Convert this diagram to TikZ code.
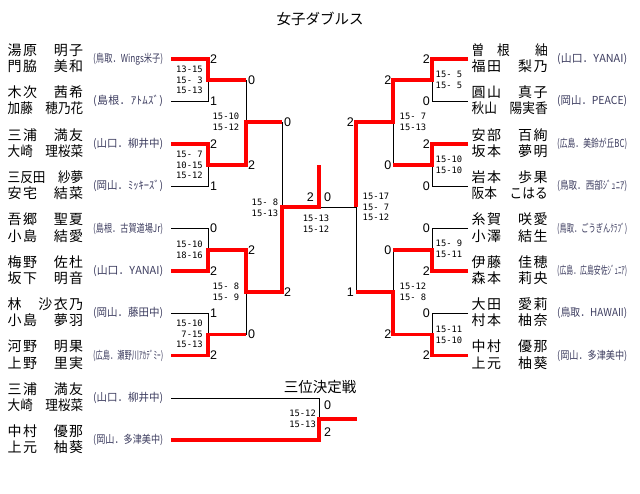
\documentclass[tikz,border=0pt]{standalone}
\usepackage{fontspec}
\usepackage{graphicx}
\setmainfont{Noto Sans CJK JP}
\newfontfamily\monofont{DejaVu Sans Mono}
\newfontfamily\numfont{Liberation Sans}
\definecolor{affc}{RGB}{60,60,95}
\newsavebox\sprbox
\def\sprA#1#2\relax{#1\ifx\relax#2\relax\else\hskip0pt plus 1fill\relax\sprA#2\relax\fi}
\newcommand\dist[2]{\sbox\sprbox{\sprA#2\relax}\ifdim\wd\sprbox>#1\relax\resizebox{#1}{\height}{\usebox\sprbox}\else\hbox to #1{\sprA#2\relax}\fi}
\tikzset{
 nm/.style={anchor=base west, inner sep=0pt, font=\fontsize{14}{14}\selectfont},
 aff/.style={anchor=west, inner sep=0pt, font=\fontsize{11}{11}\selectfont, text=affc},
 bigsc/.style={inner sep=0pt, font=\numfont\fontsize{12.5}{12.5}\selectfont},
 bigL/.style={bigsc, anchor=west},
 bigR/.style={bigsc, anchor=east},
 msc/.style={inner sep=0pt, align=left, anchor=west, font=\monofont\fontsize{8.8}{10.6}\selectfont},
 wire/.style={line width=1pt, black},
 winline/.style={line width=3.3pt, red, line join=miter},
 ttl/.style={inner sep=0pt, font=\fontsize{14.5}{14.5}\selectfont},
}
\newcommand\teamL[5]{%
 \node[nm] (#1a) at (7.5,#2-4) {\dist{75.5pt}{#3}};
 \node[nm] (#1b) at (7.5,#2+12.5) {\dist{75.5pt}{#4}};
 \node[aff] (#1c) at (93,#2) {\dist{70pt}{(#5)}};}
\newcommand\teamR[5]{%
 \node[nm] (#1a) at (471.5,#2-4) {\dist{76pt}{#3}};
 \node[nm] (#1b) at (471.5,#2+12.5) {\dist{76pt}{#4}};
 \node[aff] (#1c) at (557,#2) {\dist{70pt}{(#5)}};}
\begin{document}
\begin{tikzpicture}[x=1pt,y=-1pt]
\fill[white] (0,0) rectangle (640,493);
\useasboundingbox (0,0) rectangle (640,493);
% coordinates
\foreach \i/\y in {1/59,2/101,3/144,4/186,5/228.5,6/271,7/313,8/355.5}{
 \coordinate (Ls\i) at (171,\y); \coordinate (Le\i) at (208,\y);
 \coordinate (Re\i) at (432,\y); \coordinate (Rs\i) at (468,\y);}
\foreach \k/\y in {1/80,2/165,3/250,4/334.5}{
 \coordinate (LJ\k) at (208,\y); \coordinate (LQ\k) at (246,\y);
 \coordinate (RJ\k) at (432,\y); \coordinate (RQ\k) at (393,\y);}
\coordinate (LK1) at (246,122); \coordinate (LK2) at (246,292);
\coordinate (LS1) at (282,122); \coordinate (LS2) at (282,292);
\coordinate (LF) at (282,207); \coordinate (C) at (319,207); \coordinate (Ctop) at (319,165);
\coordinate (RF) at (356,207);
\coordinate (RS1) at (356,122); \coordinate (RS2) at (356,292);
\coordinate (RK1) at (393,122); \coordinate (RK2) at (393,292);
\coordinate (T1s) at (171,398); \coordinate (T1e) at (319,398);
\coordinate (T2s) at (171,440); \coordinate (T2e) at (319,440);
\coordinate (TJ) at (319,419); \coordinate (TW) at (357,419);
% titles
\node[ttl] (title) at (320,18.5) {女子ダブルス};
\node[ttl] (title3) at (320,387) {三位決定戦};
% teams
\teamL{L1}{59}{湯原　明子}{門脇　美和}{鳥取．Wings米子}
\teamL{L2}{101}{木次　茜希}{加藤　穂乃花}{島根．ｱﾄﾑ{ｽﾞ}}
\teamL{L3}{144}{三浦　満友}{大崎　理桜菜}{山口．柳井中}
\teamL{L4}{186}{三反田　紗夢}{安宅　結菜}{岡山．ﾐｯｷｰ{ｽﾞ}}
\teamL{L5}{228.5}{吾郷　聖夏}{小島　結愛}{島根．古賀道場Jr}
\teamL{L6}{271}{梅野　佐杜}{坂下　明音}{山口．YANAI}
\teamL{L7}{313}{林　沙衣乃}{小島　夢羽}{岡山．藤田中}
\teamL{L8}{355.5}{河野　明果}{上野　里実}{広島．瀬野川ｱｶ{ﾃﾞ}ﾐｰ}
\teamL{T1}{398}{三浦　満友}{大崎　理桜菜}{山口．柳井中}
\teamL{T2}{440}{中村　優那}{上元　柚葵}{岡山．多津美中}
\teamR{R1}{59}{曽　根　　紬}{福田　梨乃}{山口．YANAI}
\teamR{R2}{101}{圓山　真子}{秋山　陽実香}{岡山．PEACE}
\teamR{R3}{144}{安部　百絢}{坂本　夢明}{広島．美鈴が丘BC}
\teamR{R4}{186}{岩本　歩果}{阪本　こはる}{鳥取．西部{ｼﾞ}ｭﾆｱ}
\teamR{R5}{228.5}{糸賀　咲愛}{小澤　結生}{鳥取．ごうぎんｸﾗ{ﾌﾞ}}
\teamR{R6}{271}{伊藤　佳穂}{森本　莉央}{広島．広島安佐{ｼﾞ}ｭﾆｱ}
\teamR{R7}{313}{大田　愛莉}{村本　柚奈}{鳥取．HAWAII}
\teamR{R8}{355.5}{中村　優那}{上元　柚葵}{岡山．多津美中}
% black lines
\foreach \a/\b in {1/2,3/4,5/6,7/8}{
 \draw[wire] (Ls\a)--(Le\a)--(Le\b)--(Ls\b);
 \draw[wire] (Rs\a)--(Re\a)--(Re\b)--(Rs\b);}
\draw[wire] (LJ1)--(LQ1)--(LQ2)--(LJ2);
\draw[wire] (LJ3)--(LQ3)--(LQ4)--(LJ4);
\draw[wire] (LK1)--(LS1)--(LS2)--(LK2);
\draw[wire] (LF)--(RF);
\draw[wire] (RK1)--(RS1)--(RS2)--(RK2);
\draw[wire] (RJ1)--(RQ1)--(RQ2)--(RJ2);
\draw[wire] (RJ3)--(RQ3)--(RQ4)--(RJ4);
\draw[wire] (T1s)--(T1e)--(T2e)--(T2s);
% winners
\draw[winline] (Ls1)--(Le1)--(LJ1)--(LQ1);
\draw[winline] (Ls3)--(Le3)--(LJ2)--(LQ2)--(LK1)--(LS1);
\draw[winline] (Ls6)--(Le6)--(LJ3)--(LQ3)--(LK2)--(LS2)--(LF)--(C)--(Ctop);
\draw[winline] (Ls8)--(Le8)--(LJ4)--(LQ4);
\draw[winline] (Rs1)--(Re1)--(RJ1)--(RQ1)--(RK1)--(RS1)--(RF);
\draw[winline] (Rs3)--(Re3)--(RJ2)--(RQ2);
\draw[winline] (Rs6)--(Re6)--(RJ3)--(RQ3);
\draw[winline] (Rs8)--(Re8)--(RJ4)--(RQ4)--(RK2)--(RS2);
\draw[winline] (T2s)--(T2e)--(TJ)--(TW);
% game counts
\foreach \i/\s in {1/2,2/1,3/2,4/1,5/0,6/2,7/1,8/2}{
 \node[bigL] (gl\i) at ([xshift=2pt]Le\i) {\s};
 }
\foreach \i/\s in {1/2,2/0,3/2,4/0,5/0,6/2,7/0,8/2}{
 \node[bigR] (gr\i) at ([xshift=-2pt]Re\i) {\s};
 }
\foreach \k/\s in {1/0,2/2,3/2,4/0}{\node[bigL] (ql\k) at ([xshift=2pt]LQ\k) {\s};}
\foreach \k/\s in {1/2,2/0,3/0,4/2}{\node[bigR] (qr\k) at ([xshift=-1.5pt]RQ\k) {\s};}
\node[bigL] (sl1) at ([xshift=2pt]LS1) {0};
\node[bigL] (sl2) at ([xshift=2pt]LS2) {2};
\node[bigR] (sr1) at ([xshift=-2pt]RS1) {2};
\node[bigR] (sr2) at ([xshift=-2pt]RS2) {1};
\node[bigR] (fl) at ([shift={(-5pt,10pt)}]C) {2};
\node[bigL] (fr) at ([shift={(5pt,10pt)}]C) {0};
\node[bigL] (t1) at ([shift={(5pt,-7pt)}]T1e) {0};
\node[bigL] (t2) at ([shift={(5pt,8pt)}]T2e) {2};
% match scores
\node[msc] (m1) at (176,80) {13-15\\15-~3\\15-13};
\node[msc] (m2) at (176,165) {15-~7\\10-15\\15-12};
\node[msc] (m3) at (176,249.5) {15-10\\18-16};
\node[msc] (m4) at (176,334) {15-10\\~7-15\\15-13};
\node[msc] (m5) at (212.5,122) {15-10\\15-12};
\node[msc] (m6) at (212.5,292) {15-~8\\15-~9};
\node[msc] (m7) at (251.5,208) {15-~8\\15-13};
\node[msc,anchor=center] (m8) at (316,223.5) {15-13\\15-12};
\node[msc] (m9) at (362.5,207) {15-17\\15-~7\\15-12};
\node[msc] (m10) at (399.5,122) {15-~7\\15-13};
\node[msc] (m11) at (399.5,292) {15-12\\15-~8};
\node[msc] (m12) at (435.5,80) {15-~5\\15-~5};
\node[msc] (m13) at (435.5,165) {15-10\\15-10};
\node[msc] (m14) at (435.5,249) {15-~9\\15-11};
\node[msc] (m15) at (435.5,335) {15-11\\15-10};
\node[msc,anchor=east,align=right] (m16) at (316,418.5) {15-12\\15-13};
\end{tikzpicture}
\end{document}
